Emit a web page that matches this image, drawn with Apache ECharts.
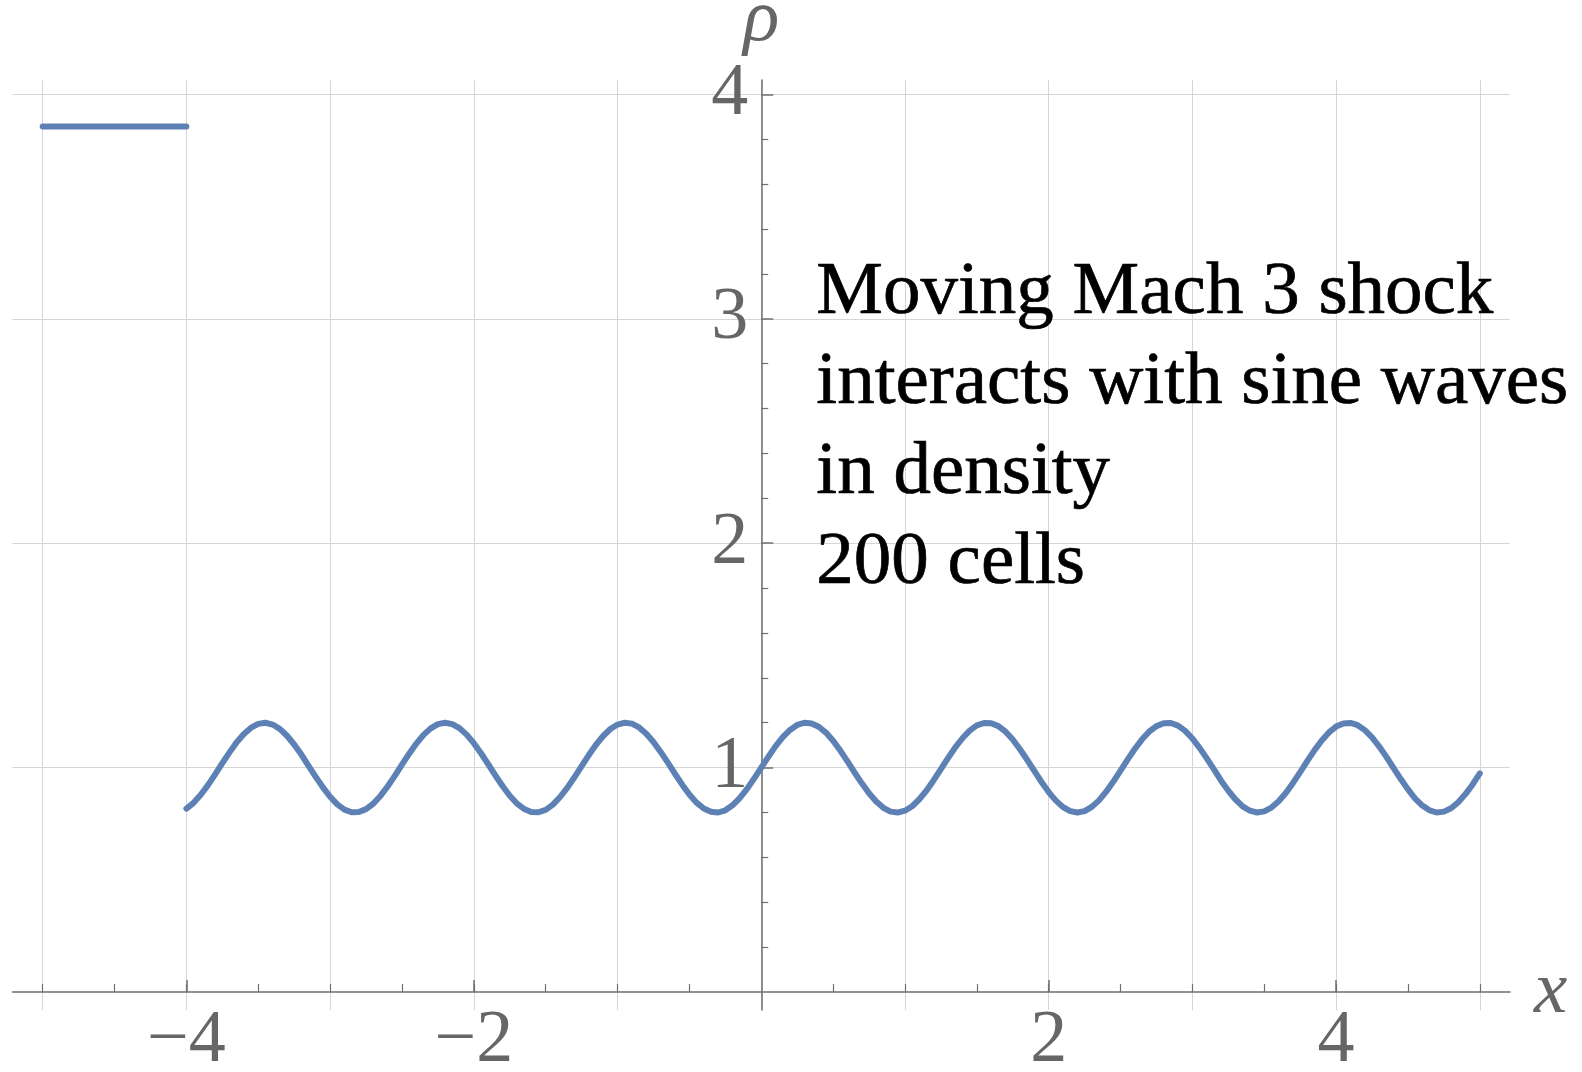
<!DOCTYPE html>
<html>
<head>
<meta charset="utf-8">
<script src="https://cdn.jsdelivr.net/npm/echarts@6/dist/echarts.min.js"></script>
<style>
  html, body { margin: 0; padding: 0; background: #ffffff; }
  #chart { width: 1582px; height: 1072px; }
</style>
</head>
<body>
<div id="chart"></div>
<script>
// ---- data ----
const preShockX = [-5, -4];
const preShockRho = [3.857, 3.857];

const waveX = [
  -4.00, -3.95, -3.90, -3.85, -3.80, -3.75, -3.70, -3.65, -3.60, -3.55,
  -3.50, -3.45, -3.40, -3.35, -3.30, -3.25, -3.20, -3.15, -3.10, -3.05,
  -3.00, -2.95, -2.90, -2.85, -2.80, -2.75, -2.70, -2.65, -2.60, -2.55,
  -2.50, -2.45, -2.40, -2.35, -2.30, -2.25, -2.20, -2.15, -2.10, -2.05,
  -2.00, -1.95, -1.90, -1.85, -1.80, -1.75, -1.70, -1.65, -1.60, -1.55,
  -1.50, -1.45, -1.40, -1.35, -1.30, -1.25, -1.20, -1.15, -1.10, -1.05,
  -1.00, -0.95, -0.90, -0.85, -0.80, -0.75, -0.70, -0.65, -0.60, -0.55,
  -0.50, -0.45, -0.40, -0.35, -0.30, -0.25, -0.20, -0.15, -0.10, -0.05,
   0.00,  0.05,  0.10,  0.15,  0.20,  0.25,  0.30,  0.35,  0.40,  0.45,
   0.50,  0.55,  0.60,  0.65,  0.70,  0.75,  0.80,  0.85,  0.90,  0.95,
   1.00,  1.05,  1.10,  1.15,  1.20,  1.25,  1.30,  1.35,  1.40,  1.45,
   1.50,  1.55,  1.60,  1.65,  1.70,  1.75,  1.80,  1.85,  1.90,  1.95,
   2.00,  2.05,  2.10,  2.15,  2.20,  2.25,  2.30,  2.35,  2.40,  2.45,
   2.50,  2.55,  2.60,  2.65,  2.70,  2.75,  2.80,  2.85,  2.90,  2.95,
   3.00,  3.05,  3.10,  3.15,  3.20,  3.25,  3.30,  3.35,  3.40,  3.45,
   3.50,  3.55,  3.60,  3.65,  3.70,  3.75,  3.80,  3.85,  3.90,  3.95,
   4.00,  4.05,  4.10,  4.15,  4.20,  4.25,  4.30,  4.35,  4.40,  4.45,
   4.50,  4.55,  4.60,  4.65,  4.70,  4.75,  4.80,  4.85,  4.90,  4.95,
   5.00
];
const waveRho = [
  0.817, 0.843, 0.879, 0.922, 0.970, 1.020, 1.068, 1.113, 1.150, 1.178,
  1.195, 1.200, 1.192, 1.173, 1.142, 1.103, 1.058, 1.008, 0.959, 0.912,
  0.870, 0.836, 0.813, 0.801, 0.802, 0.815, 0.839, 0.874, 0.916, 0.963,
  1.013, 1.062, 1.107, 1.146, 1.175, 1.194, 1.200, 1.194, 1.176, 1.147,
  1.109, 1.064, 1.015, 0.965, 0.918, 0.875, 0.840, 0.816, 0.802, 0.801,
  0.812, 0.835, 0.869, 0.910, 0.957, 1.007, 1.056, 1.102, 1.141, 1.172,
  1.192, 1.200, 1.196, 1.179, 1.151, 1.114, 1.070, 1.022, 0.972, 0.924,
  0.880, 0.844, 0.818, 0.803, 0.800, 0.810, 0.832, 0.864, 0.904, 0.951,
  1.000, 1.049, 1.096, 1.136, 1.168, 1.190, 1.200, 1.197, 1.182, 1.156,
  1.120, 1.076, 1.028, 0.978, 0.930, 0.886, 0.849, 0.821, 0.804, 0.800,
  0.808, 0.828, 0.859, 0.898, 0.944, 0.993, 1.043, 1.090, 1.131, 1.165,
  1.188, 1.199, 1.198, 1.185, 1.160, 1.125, 1.082, 1.035, 0.985, 0.936,
  0.891, 0.853, 0.824, 0.806, 0.800, 0.806, 0.825, 0.854, 0.893, 0.938,
  0.987, 1.037, 1.084, 1.126, 1.161, 1.185, 1.198, 1.199, 1.187, 1.164,
  1.130, 1.088, 1.041, 0.992, 0.942, 0.897, 0.858, 0.827, 0.808, 0.800,
  0.805, 0.822, 0.850, 0.887, 0.932, 0.980, 1.030, 1.078, 1.121, 1.157,
  1.183, 1.197, 1.199, 1.189, 1.167, 1.135, 1.094, 1.048, 0.998, 0.949,
  0.903, 0.862, 0.831, 0.810, 0.800, 0.804, 0.819, 0.846, 0.882, 0.925,
  0.974
];

// tick / label values
const xGridVals = [-5, -4, -3, -2, -1, 0, 1, 2, 3, 4, 5];
const xLabelVals = [-4, -2, 2, 4];
const xMinorTickVals = [-5, -4.5, -4, -3.5, -3, -2.5, -2, -1.5, -1, -0.5, 0.5, 1, 1.5, 2, 2.5, 3, 3.5, 4, 4.5, 5];
const yLabelVals = [1, 2, 3, 4];
const yMinorTickVals = [0.2, 0.4, 0.6, 0.8, 1.2, 1.4, 1.6, 1.8, 2.2, 2.4, 2.6, 2.8, 3.2, 3.4, 3.6, 3.8];

const annotationLines = [
  'Moving Mach 3 shock',
  'interacts with sine waves',
  'in density',
  '200 cells'
];

const xName = 'x';
const yName = '\u03c1';

// ---- chart ----
const SERIF = 'Liberation Serif';
const AXIS_COLOR = '#6f6f6f';
const LABEL_COLOR = '#666666';
const GRID_COLOR = '#d5d5d5';
const LINE_COLOR = '#5e81b5';
const X_MIN = -5.21, X_MAX = 5.21, Y_MIN = -0.08, Y_MAX = 4.064;
const GRID = { left: 12.5, top: 80, width: 1497.5, height: 930 };

// put the axes through the origin (via axis offset from the grid edges)
const zeroX = GRID.left + (0 - X_MIN) / (X_MAX - X_MIN) * GRID.width;
const zeroY = GRID.top + (Y_MAX - 0) / (Y_MAX - Y_MIN) * GRID.height;
const X_AXIS_OFFSET = zeroY - (GRID.top + GRID.height);
const Y_AXIS_OFFSET = GRID.left - zeroX;

const fmt = v => (v < 0 ? '\u2212' + Math.abs(v) : String(v));
function pairs(xs, ys) { return xs.map((x, i) => [x, ys[i]]); }

const chart = echarts.init(document.getElementById('chart'), null, { renderer: 'canvas' });

const xBase = { type: 'value', position: 'bottom', min: X_MIN, max: X_MAX, offset: X_AXIS_OFFSET };
const yBase = { type: 'value', position: 'left', min: Y_MIN, max: Y_MAX, offset: Y_AXIS_OFFSET };

const option = {
  animation: false,
  backgroundColor: '#ffffff',
  grid: Object.assign({ containLabel: false, outerBoundsMode: 'none' }, GRID),
  xAxis: [
    Object.assign({}, xBase, {
      name: xName, nameLocation: 'end', nameGap: 24,
      nameTextStyle: { fontFamily: SERIF, fontStyle: 'italic', fontSize: 75, color: LABEL_COLOR },
      axisLine: { show: true, onZero: false, lineStyle: { color: AXIS_COLOR, width: 1.5 } },
      axisTick: { show: false, customValues: xGridVals },
      axisLabel: { show: true, customValues: xLabelVals, formatter: fmt, margin: 13,
        fontFamily: SERIF, fontSize: 74, color: LABEL_COLOR },
      splitLine: { show: true, lineStyle: { color: GRID_COLOR, width: 1 } }
    }),
    Object.assign({}, xBase, {
      axisLine: { show: false, onZero: false },
      axisTick: { show: true, inside: true, length: 12, customValues: xLabelVals, lineStyle: { color: AXIS_COLOR, width: 1.5 } },
      axisLabel: { show: false },
      splitLine: { show: false }
    }),
    Object.assign({}, xBase, {
      axisLine: { show: false, onZero: false },
      axisTick: { show: true, inside: true, length: 8, customValues: xMinorTickVals, lineStyle: { color: AXIS_COLOR, width: 1.2 } },
      axisLabel: { show: false },
      splitLine: { show: false }
    })
  ],
  yAxis: [
    Object.assign({}, yBase, {
      name: yName, nameLocation: 'end', nameGap: 16,
      nameTextStyle: { fontFamily: SERIF, fontStyle: 'italic', fontSize: 75, color: LABEL_COLOR, align: 'center' },
      axisLine: { show: true, onZero: false, lineStyle: { color: AXIS_COLOR, width: 1.5 } },
      axisTick: { show: true, inside: true, length: 12, customValues: yLabelVals, lineStyle: { color: AXIS_COLOR, width: 1.5 } },
      axisLabel: { show: true, customValues: yLabelVals, formatter: fmt, margin: 13,
        fontFamily: SERIF, fontSize: 74, color: LABEL_COLOR },
      splitLine: { show: true, lineStyle: { color: GRID_COLOR, width: 1 } }
    }),
    Object.assign({}, yBase, {
      axisLine: { show: false, onZero: false },
      axisTick: { show: true, inside: true, length: 7, customValues: yMinorTickVals, lineStyle: { color: AXIS_COLOR, width: 1.2 } },
      axisLabel: { show: false },
      splitLine: { show: false }
    })
  ],
  graphic: [
    {
      type: 'text', left: 816, top: 248, z: 100,
      style: {
        text: annotationLines.join('\n'),
        font: '75px "Liberation Serif"',
        fill: '#000000',
        stroke: '#000000',
        lineWidth: 0.7,
        lineHeight: 90
      }
    }
  ],
  series: [
    {
      type: 'line', name: 'pre-shock', xAxisIndex: 0, yAxisIndex: 0,
      data: pairs(preShockX, preShockRho),
      showSymbol: false, symbol: 'none',
      lineStyle: { color: LINE_COLOR, width: 6, cap: 'round' },
      z: 10
    },
    {
      type: 'line', name: 'wave', xAxisIndex: 0, yAxisIndex: 0,
      data: pairs(waveX, waveRho),
      showSymbol: false, symbol: 'none', smooth: false,
      lineStyle: { color: LINE_COLOR, width: 6, cap: 'round', join: 'round' },
      z: 10
    }
  ]
};

chart.setOption(option);
</script>
</body>
</html>
